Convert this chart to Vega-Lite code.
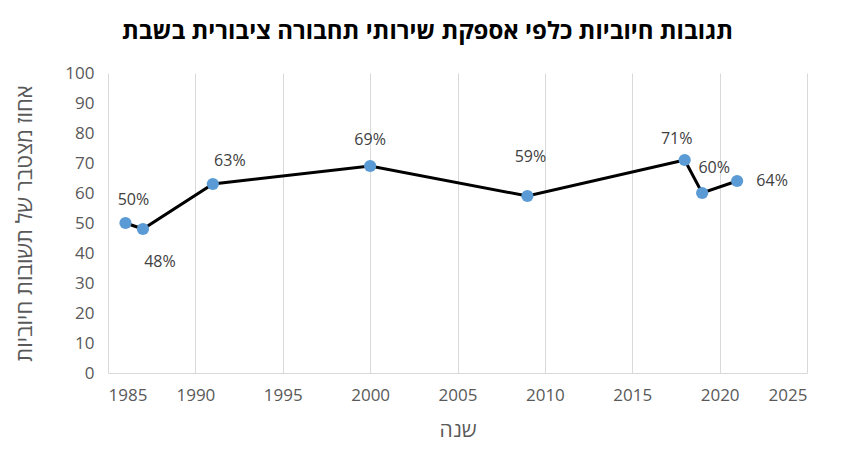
{
  "$schema": "https://vega.github.io/schema/vega-lite/v6.json",
  "description": "Positive responses to public transport on Shabbat",
  "width": 699,
  "height": 300,
  "autosize": "none",
  "padding": {"left": 108, "top": 73, "right": 44, "bottom": 94},
  "background": "white",
  "title": {
    "text": "תגובות חיוביות כלפי אספקת שירותי תחבורה ציבורית בשבת",
    "font": "Open Sans",
    "fontSize": 24,
    "fontWeight": "bold",
    "color": "black",
    "anchor": "middle",
    "dx": -30,
    "offset": 20
  },
  "data": {
    "values": [
      {"year": 1986, "value": 50, "label": "50%"},
      {"year": 1987, "value": 48, "label": "48%"},
      {"year": 1991, "value": 63, "label": "63%"},
      {"year": 2000, "value": 69, "label": "69%"},
      {"year": 2009, "value": 59, "label": "59%"},
      {"year": 2018, "value": 71, "label": "71%"},
      {"year": 2019, "value": 60, "label": "60%"},
      {"year": 2021, "value": 64, "label": "64%"}
    ]
  },
  "encoding": {
    "x": {
      "field": "year",
      "type": "quantitative",
      "scale": {"domain": [1985, 2025], "nice": false, "zero": false},
      "axis": {
        "title": "שנה",
        "values": [1985, 1990, 1995, 2000, 2005, 2010, 2015, 2020, 2025],
        "format": "d",
        "grid": true,
        "gridColor": "#d9d9d9",
        "domainColor": "#d9d9d9",
        "ticks": false,
        "labelPadding": 14,
        "labelFontSize": 17,
        "labelColor": "#595959",
        "titleFontSize": 21,
        "titleFontWeight": "normal",
        "titleColor": "#595959",
        "titlePadding": 16
      }
    },
    "y": {
      "field": "value",
      "type": "quantitative",
      "scale": {"domain": [0, 100], "nice": false},
      "axis": {
        "title": "אחוז מצטבר של תשובות חיוביות",
        "values": [0, 10, 20, 30, 40, 50, 60, 70, 80, 90, 100],
        "grid": false,
        "domain": false,
        "ticks": false,
        "labelPadding": 14,
        "labelFontSize": 17,
        "labelColor": "#595959",
        "titleFontSize": 22,
        "titleFontWeight": "normal",
        "titleColor": "#595959",
        "titlePadding": 28
      }
    }
  },
  "layer": [
    {"mark": {"type": "line", "color": "black", "strokeWidth": 3}},
    {"mark": {"type": "point", "filled": true, "opacity": 1, "color": "#5b9bd5", "size": 150}},
    {"transform": [{"filter": "datum.year == 1986"}], "mark": {"type": "text", "fontSize": 16, "color": "#404040", "dx": 8, "dy": -23}, "encoding": {"text": {"field": "label"}}},
    {"transform": [{"filter": "datum.year == 1987"}], "mark": {"type": "text", "fontSize": 16, "color": "#404040", "dx": 17, "dy": 33}, "encoding": {"text": {"field": "label"}}},
    {"transform": [{"filter": "datum.year == 1991"}], "mark": {"type": "text", "fontSize": 16, "color": "#404040", "dx": 17, "dy": -23}, "encoding": {"text": {"field": "label"}}},
    {"transform": [{"filter": "datum.year == 2000"}], "mark": {"type": "text", "fontSize": 16, "color": "#404040", "dx": 0, "dy": -26}, "encoding": {"text": {"field": "label"}}},
    {"transform": [{"filter": "datum.year == 2009"}], "mark": {"type": "text", "fontSize": 16, "color": "#404040", "dx": 3, "dy": -39}, "encoding": {"text": {"field": "label"}}},
    {"transform": [{"filter": "datum.year == 2018"}], "mark": {"type": "text", "fontSize": 16, "color": "#404040", "dx": -8, "dy": -21}, "encoding": {"text": {"field": "label"}}},
    {"transform": [{"filter": "datum.year == 2019"}], "mark": {"type": "text", "fontSize": 16, "color": "#404040", "dx": 12, "dy": -25}, "encoding": {"text": {"field": "label"}}},
    {"transform": [{"filter": "datum.year == 2021"}], "mark": {"type": "text", "fontSize": 16, "color": "#404040", "dx": 35, "dy": 0}, "encoding": {"text": {"field": "label"}}}
  ],
  "config": {
    "view": {"stroke": null},
    "font": "Open Sans"
  }
}
